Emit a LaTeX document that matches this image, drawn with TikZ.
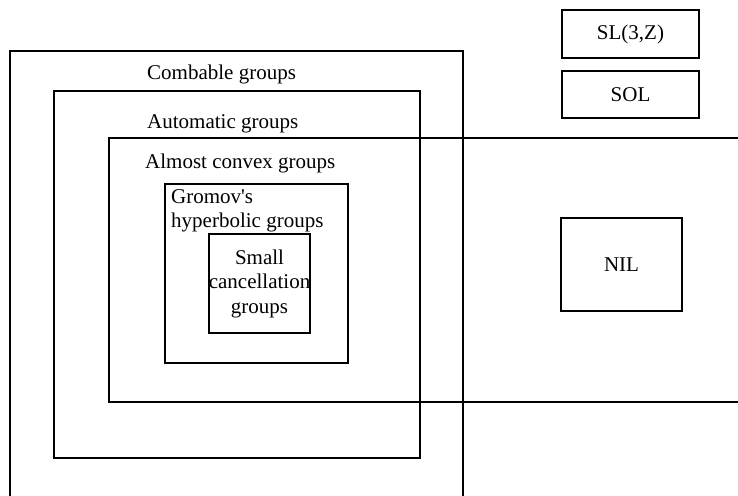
\documentclass[tikz,border=0pt]{standalone}
\usepackage{fontspec}
\setmainfont{Liberation Serif}
\begin{document}
\begin{tikzpicture}[x=1pt,y=-1pt,
  frame/.style={line width=2.5pt,line join=miter},
  boxnode/.style={draw,line width=2.5pt,inner sep=0pt,align=center,font=\fontsize{21}{24.5}\selectfont},
  lab/.style={inner sep=0pt,font=\fontsize{21}{24.5}\selectfont}]
\useasboundingbox (0,0) rectangle (738,495);
\fill[white] (0,0) rectangle (738,495);
% open frames
\coordinate (c1a) at (10,496); \coordinate (c1b) at (10,51); \coordinate (c1c) at (463,51); \coordinate (c1d) at (463,496);
\draw[frame] (c1a) -- (c1b) -- (c1c) -- (c1d);
\node[draw,frame,inner sep=0pt,minimum width=366pt,minimum height=367pt] (auto) at (237,274.5) {};
\coordinate (c3a) at (740,138); \coordinate (c3b) at (109,138); \coordinate (c3c) at (109,402); \coordinate (c3d) at (740,402);
\draw[frame] (c3a) -- (c3b) -- (c3c) -- (c3d);
\node[draw,frame,inner sep=0pt,minimum width=183pt,minimum height=179pt] (gromov) at (256.5,273.5) {};
% labels
\node[lab,anchor=base west] (comb) at (147,79) {Combable groups};
\node[lab,anchor=base west] (autol) at (147,128) {Automatic groups};
\node[lab,anchor=base west] (almost) at (145,168) {Almost convex groups};
\node[lab,anchor=north west,align=left] (gromovl) at (171,189) {Gromov\textquotesingle s\\hyperbolic groups};
% boxes with text
\node[boxnode,minimum width=99pt,minimum height=99pt] (small) at (259.5,283.5) {Small\\cancellation\\groups};
\node[boxnode,minimum width=137pt,minimum height=48pt] (sl) at (630.5,34) {SL(3,Z)};
\node[boxnode,minimum width=137pt,minimum height=47pt] (sol) at (630.5,94.5) {SOL};
\node[boxnode,minimum width=121pt,minimum height=93pt] (nil) at (621.5,264.5) {NIL};
\end{tikzpicture}
\end{document}
